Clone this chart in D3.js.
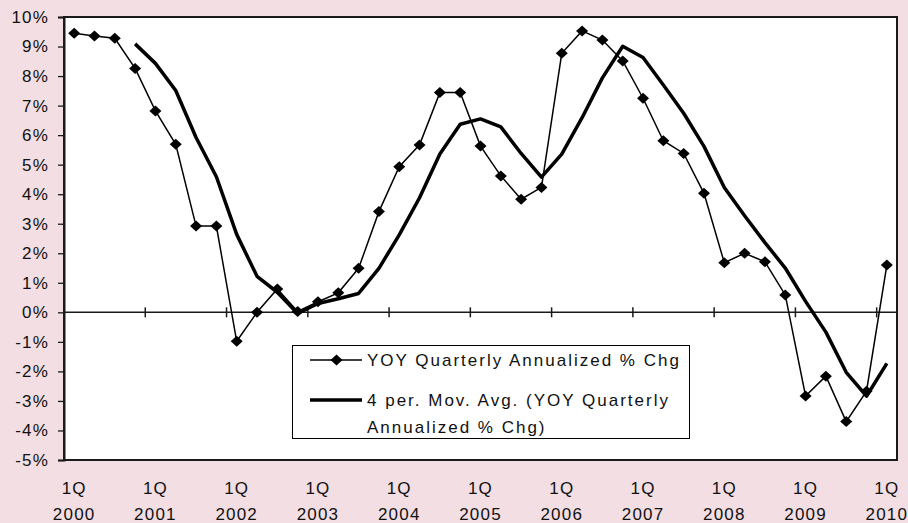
<!DOCTYPE html>
<html>
<head>
<meta charset="utf-8">
<script src="https://cdn.jsdelivr.net/npm/d3@7"></script>
<style>
  html, body { margin: 0; padding: 0; background: #F2DEE3; }
  svg { display: block; font-family: Arial, "Liberation Sans", sans-serif; }
</style>
</head>
<body>
<svg id="chart" width="908" height="523"></svg>
<script>
// ---- data ----
const years = [2000, 2001, 2002, 2003, 2004, 2005, 2006, 2007, 2008, 2009, 2010];
const quarters = ["1Q", "2Q", "3Q", "4Q"];
const categories = [];
years.forEach(y => quarters.forEach(q => { if (y < 2010 || q === "1Q") categories.push(q + " " + y); }));

const yoy = [9.45, 9.36, 9.28, 8.26, 6.82, 5.69, 2.92, 2.92, -0.98, 0.00,
             0.79, 0.03, 0.36, 0.66, 1.49, 3.41, 4.93, 5.67, 7.44, 7.44,
             5.63, 4.62, 3.83, 4.23, 8.77, 9.53, 9.22, 8.51, 7.25, 5.81,
             5.38, 4.03, 1.68, 2.00, 1.71, 0.59, -2.83, -2.16, -3.70, -2.67,
             1.60];
const movAvg = [null, null, null, 9.09, 8.43, 7.51, 5.92, 4.59, 2.64, 1.22,
                0.68, -0.04, 0.30, 0.46, 0.64, 1.49, 2.62, 3.88, 5.36, 6.37,
                6.55, 6.28, 5.38, 4.58, 5.36, 6.59, 7.94, 9.01, 8.63, 7.70,
                6.74, 5.62, 4.23, 3.27, 2.36, 1.50, 0.37, -0.67, -2.03, -2.84,
                -1.73];
const yTicks = [-5, -4, -3, -2, -1, 0, 1, 2, 3, 4, 5, 6, 7, 8, 9, 10];
const seriesNames = ["YOY Quarterly Annualized % Chg", "4 per. Mov. Avg. (YOY Quarterly", "Annualized % Chg)"];

// ---- layout ----
const svg = d3.select("#chart");
const L = 64, R = 897, T = 17, B = 460;

const x = d3.scaleBand().domain(categories).range([L, R]).padding(0);
const y = d3.scaleLinear().domain([-5, 10]).range([B, T]);
const cx = d => x(d) + x.bandwidth() / 2;

// plot area
svg.append("rect").attr("x", L).attr("y", T).attr("width", R - L).attr("height", B - T)
  .attr("fill", "#fff").attr("stroke", "#1a1a1a").attr("stroke-width", 2);

// y axis
const yAxis = d3.axisLeft(y).tickValues(yTicks).tickFormat(d => d + "%").tickSize(6).tickPadding(9);
const gy = svg.append("g").attr("transform", `translate(${L},0)`).call(yAxis);
gy.select(".domain").attr("stroke", "#1a1a1a").attr("stroke-width", 2);
gy.selectAll(".tick line").attr("stroke", "#1a1a1a").attr("stroke-width", 1.3);
gy.selectAll(".tick text").attr("font-size", 17).attr("fill", "#111")
  .attr("letter-spacing", 1.2).attr("font-family", "Arial, 'Liberation Sans', sans-serif");

// zero line with category ticks
const y0 = y(0);
svg.append("line").attr("x1", L).attr("x2", R).attr("y1", y0).attr("y2", y0)
  .attr("stroke", "#1a1a1a").attr("stroke-width", 1.5);
const tickCats = categories.filter((c, i) => i > 0 && i % 4 === 0);
svg.selectAll(".xt").data(tickCats).enter().append("line")
  .attr("x1", d => x(d)).attr("x2", d => x(d))
  .attr("y1", y0 - 5).attr("y2", y0 + 5)
  .attr("stroke", "#1a1a1a").attr("stroke-width", 1.5);

// x labels
const labelCats = categories.filter((c, i) => i % 4 === 0);
const xl = svg.selectAll(".xl").data(labelCats).enter().append("g")
  .attr("transform", d => `translate(${cx(d)},0)`);
xl.append("text").attr("y", 494).attr("text-anchor", "middle").attr("font-size", 17)
  .attr("letter-spacing", 1.2).attr("fill", "#111").text(d => d.split(" ")[0]);
xl.append("text").attr("y", 520).attr("text-anchor", "middle").attr("font-size", 17)
  .attr("letter-spacing", 1.2).attr("fill", "#111").text(d => d.split(" ")[1]);

// moving average line
const maLine = d3.line().defined(d => d[1] !== null).x(d => cx(d[0])).y(d => y(d[1]));
svg.append("path").datum(categories.map((c, i) => [c, movAvg[i]]))
  .attr("d", maLine).attr("fill", "none").attr("stroke", "#000").attr("stroke-width", 3.5)
  .attr("stroke-linejoin", "round");

// yoy line
const yoyLine = d3.line().x(d => cx(d[0])).y(d => y(d[1]));
svg.append("path").datum(categories.map((c, i) => [c, yoy[i]]))
  .attr("d", yoyLine).attr("fill", "none").attr("stroke", "#000").attr("stroke-width", 1.5);

const dw = 6, dh = 5.5;
const diamond = `M0,${-dh}L${dw},0L0,${dh}L${-dw},0Z`;
svg.selectAll(".pt").data(categories.map((c, i) => [c, yoy[i]])).enter().append("path")
  .attr("d", diamond).attr("transform", d => `translate(${cx(d[0])},${y(d[1])})`)
  .attr("fill", "#000");

// legend
const lg = svg.append("g");
lg.append("rect").attr("x", 292.5).attr("y", 345.5).attr("width", 397).attr("height", 93)
  .attr("fill", "#fff").attr("stroke", "#000").attr("stroke-width", 1);
lg.append("line").attr("x1", 310).attr("x2", 362).attr("y1", 360).attr("y2", 360)
  .attr("stroke", "#000").attr("stroke-width", 1.5);
lg.append("path").attr("d", diamond).attr("transform", "translate(336.5,360)").attr("fill", "#000");
lg.append("line").attr("x1", 310).attr("x2", 362).attr("y1", 400).attr("y2", 400)
  .attr("stroke", "#000").attr("stroke-width", 3.5);
const lgY = [366, 406, 432.5];
seriesNames.forEach((s, i) => {
  lg.append("text").attr("x", 367).attr("y", lgY[i]).attr("font-size", 17)
    .attr("letter-spacing", 2.0).attr("fill", "#111").text(s);
});
</script>
</body>
</html>
